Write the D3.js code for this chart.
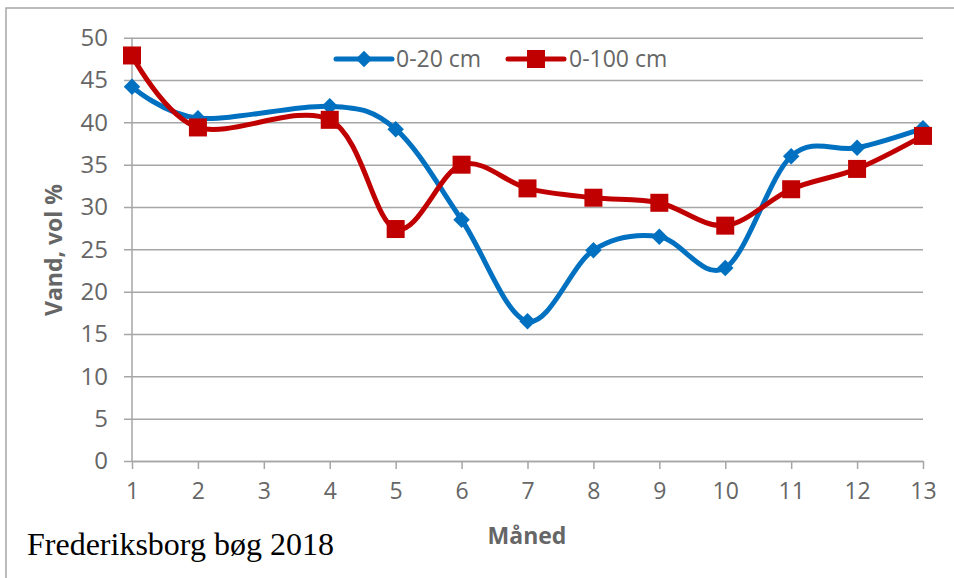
<!DOCTYPE html>
<html>
<head>
<meta charset="utf-8">
<script src="https://cdn.jsdelivr.net/npm/d3@7"></script>
<style>
  html, body { margin: 0; padding: 0; background: #fff; }
  svg { display: block; }
</style>
</head>
<body>
<svg id="chart" width="954" height="578"></svg>
<script>
const months = [1, 2, 4, 5, 6, 7, 8, 9, 10, 11, 12, 13];
const tickMonths = [1, 2, 3, 4, 5, 6, 7, 8, 9, 10, 11, 12, 13];
const yTicks = [0, 5, 10, 15, 20, 25, 30, 35, 40, 45, 50];
const seriesNames = ["0-20 cm", "0-100 cm"];
const values0_20 = [44.2, 40.5, 41.9, 39.2, 28.5, 16.5, 24.9, 26.5, 22.8, 36.0, 37.0, 39.3];
const values0_100 = [47.9, 39.4, 40.3, 27.4, 35.0, 32.2, 31.1, 30.5, 27.8, 32.1, 34.5, 38.4];
const xTitle = "Måned";
const yTitle = "Vand, vol %";
const caption = "Frederiksborg bøg 2018";

(function () {
const svg = d3.select("#chart");
const sans = "'Open Sans', 'Noto Sans', sans-serif";
const grid = "#a6a6a6";
const textCol = "#666666";
const colors = ["#0070C0", "#C00000"];

// outer frame
svg.append("rect").attr("x", 6).attr("y", 8).attr("width", 960).attr("height", 600)
  .attr("fill", "none").attr("stroke", grid).attr("stroke-width", 1.5);

const pLeft = 132, pRight = 923, pTop = 37.7, pBottom = 461;
const x = d3.scaleLinear().domain([1, 13]).range([pLeft, pRight]);
const y = d3.scaleLinear().domain([0, 50]).range([pBottom, pTop]);

// gridlines + y axis
const yAxis = d3.axisLeft(y).tickValues(yTicks).tickSize(-(pRight - pLeft)).tickSizeOuter(0).tickPadding(24);
const gy = svg.append("g").attr("transform", `translate(${pLeft},0)`).call(yAxis);
gy.select(".domain").remove();
gy.selectAll(".tick line").attr("stroke", grid).attr("stroke-width", 1.5).attr("x1", -8);
gy.selectAll(".tick text").attr("fill", textCol).style("font-family", sans).style("font-size", "24px");

// vertical axis line
svg.append("line").attr("x1", pLeft).attr("x2", pLeft).attr("y1", pTop).attr("y2", pBottom)
  .attr("stroke", grid).attr("stroke-width", 1.5);

// x axis
const xAxis = d3.axisBottom(x).tickValues(tickMonths).tickSize(8).tickSizeOuter(0).tickPadding(14).tickFormat(d3.format("d"));
const gx = svg.append("g").attr("transform", `translate(0,${pBottom})`).call(xAxis);
gx.select(".domain").attr("stroke", grid).attr("stroke-width", 1.5);
gx.selectAll(".tick line").attr("stroke", grid).attr("stroke-width", 1.5);
gx.selectAll(".tick text").attr("fill", textCol).style("font-family", sans).style("font-size", "23px");

// axis titles
svg.append("text").attr("x", 527).attr("y", 544).attr("text-anchor", "middle")
  .attr("fill", textCol).style("font-family", sans).style("font-size", "23px").style("font-weight", "bold")
  .text(xTitle);
svg.append("text").attr("transform", "translate(62,250) rotate(-90)").attr("text-anchor", "middle")
  .attr("fill", textCol).style("font-family", sans).style("font-size", "23px").style("font-weight", "bold")
  .text(yTitle);

// caption
svg.append("text").attr("x", 27).attr("y", 555)
  .attr("fill", "#000").style("font-family", "'Liberation Serif', 'Times New Roman', serif").style("font-size", "32px")
  .text(caption);

// lines
const data = [values0_20, values0_100].map(vals => months.map((m, i) => ({m, v: vals[i]})));
const line = d3.line().x(d => x(d.m)).y(d => y(d.v)).curve(d3.curveCatmullRom.alpha(0));

data.forEach((s, i) => {
  svg.append("path").attr("d", line(s)).attr("fill", "none")
    .attr("stroke", colors[i]).attr("stroke-width", 5).attr("stroke-linejoin", "round").attr("stroke-linecap", "round");
});

function drawMarker(g, i, cx, cy) {
  if (i === 0) {
    g.append("path").attr("d", d3.symbol().type(d3.symbolSquare).size(136)())
      .attr("transform", `translate(${cx},${cy}) rotate(45)`).attr("fill", colors[0]);
  } else {
    g.append("rect").attr("x", cx - 9).attr("y", cy - 9).attr("width", 18).attr("height", 18).attr("fill", colors[1]);
  }
}
const mg = svg.append("g");
data.forEach((s, i) => s.forEach(d => drawMarker(mg, i, x(d.m), y(d.v))));

// legend
const legend = [{x0: 336, x1: 392, tx: 396}, {x0: 508, x1: 564, tx: 569}];
legend.forEach((l, i) => {
  svg.append("line").attr("x1", l.x0).attr("x2", l.x1).attr("y1", 59).attr("y2", 59)
    .attr("stroke", colors[i]).attr("stroke-width", 5).attr("stroke-linecap", "round");
  drawMarker(svg, i, (l.x0 + l.x1) / 2, 59);
  svg.append("text").attr("x", l.tx).attr("y", 59).attr("dy", "0.36em")
    .attr("fill", textCol).style("font-family", sans).style("font-size", "23px").text(seriesNames[i]);
});
})();
</script>
</body>
</html>
